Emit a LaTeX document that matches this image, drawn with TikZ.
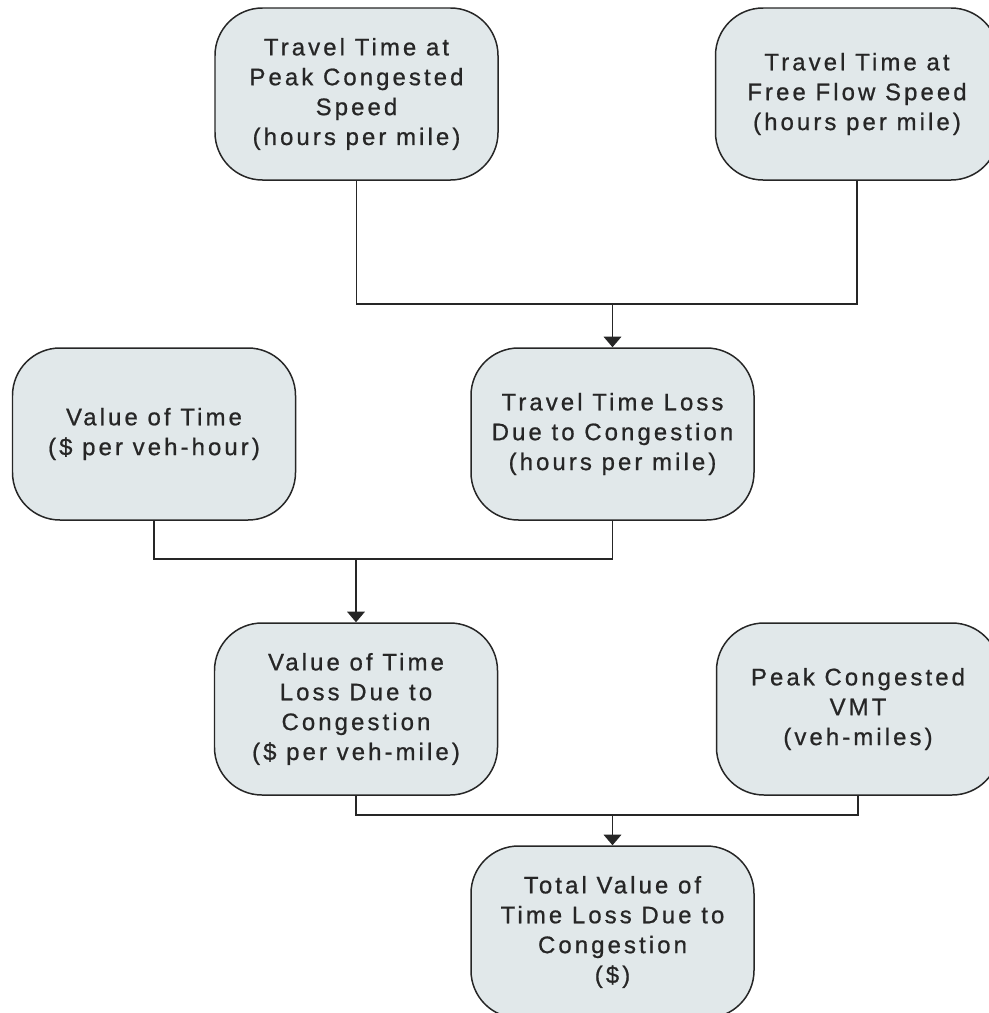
\documentclass[tikz,border=0pt]{standalone}
\usepackage{fontspec}
\setmainfont[LetterSpace=13, FakeBold=0.8]{Liberation Sans}
\usepackage{tikz}
\usetikzlibrary{positioning, arrows.meta, calc}

\definecolor{boxfill}{HTML}{E1E8EA}
\definecolor{inkgray}{HTML}{262626}

\tikzset{
  stepbox/.style={draw=inkgray, line width=0.85pt, fill=boxfill, rounded corners=0.95cm,
    minimum width=5.66cm, minimum height=3.44cm, align=center, text=inkgray,
    font=\fontsize{13.6}{17}\selectfont},
  link/.style={draw=inkgray, line width=0.9pt},
  flow/.style={link, -{Triangle[width=10pt, length=6pt]}}
}

\begin{document}
\begin{tikzpicture}[node distance=2cm, on grid]
    \useasboundingbox (0,0) rectangle (19.78,-20.26);
    \clip (0,0) rectangle (19.78,-20.26);

    \node[stepbox] (peak) at (7.13,-1.88) {Travel Time at\\Peak Congested\\Speed\\(hours per mile)};
    \node[stepbox] (free) [right=10.01cm of peak] {Travel Time at\\Free Flow Speed\\(hours per mile)};
    \node[stepbox] (loss) [below right=6.8cm and 5.12cm of peak] {Travel Time Loss\\Due to Congestion\\(hours per mile)};
    \node[stepbox] (vot) [left=9.17cm of loss] {Value of Time\\(\$ per veh-hour)};
    \node[stepbox] (vloss) [below right=5.5cm and 4.04cm of vot] {Value of Time\\Loss Due to\\Congestion\\(\$ per veh-mile)};
    \node[stepbox] (vmt) [right=10.04cm of vloss] {Peak Congested\\VMT\\(veh-miles)};
    \node[stepbox] (total) [below right=4.46cm and 5.13cm of vloss] {Total Value of\\Time Loss Due to\\Congestion\\(\$)};

    % joins
    \coordinate (j1) at ($(loss.north)+(0,0.86)$);
    \coordinate (j2) at ($(vloss.north)+(0,1.26)$);
    \coordinate (j3) at ($(total.north)+(0,0.6)$);

    \draw[link] (peak.south) |- (j1) -| (free.south);
    \draw[flow] (j1) -- (loss.north);
    \draw[link] (vot.south) |- (j2) -| (loss.south);
    \draw[flow] (j2) -- (vloss.north);
    \draw[link] (vloss.south) |- (j3) -| (vmt.south);
    \draw[flow] (j3) -- (total.north);
\end{tikzpicture}
\end{document}
